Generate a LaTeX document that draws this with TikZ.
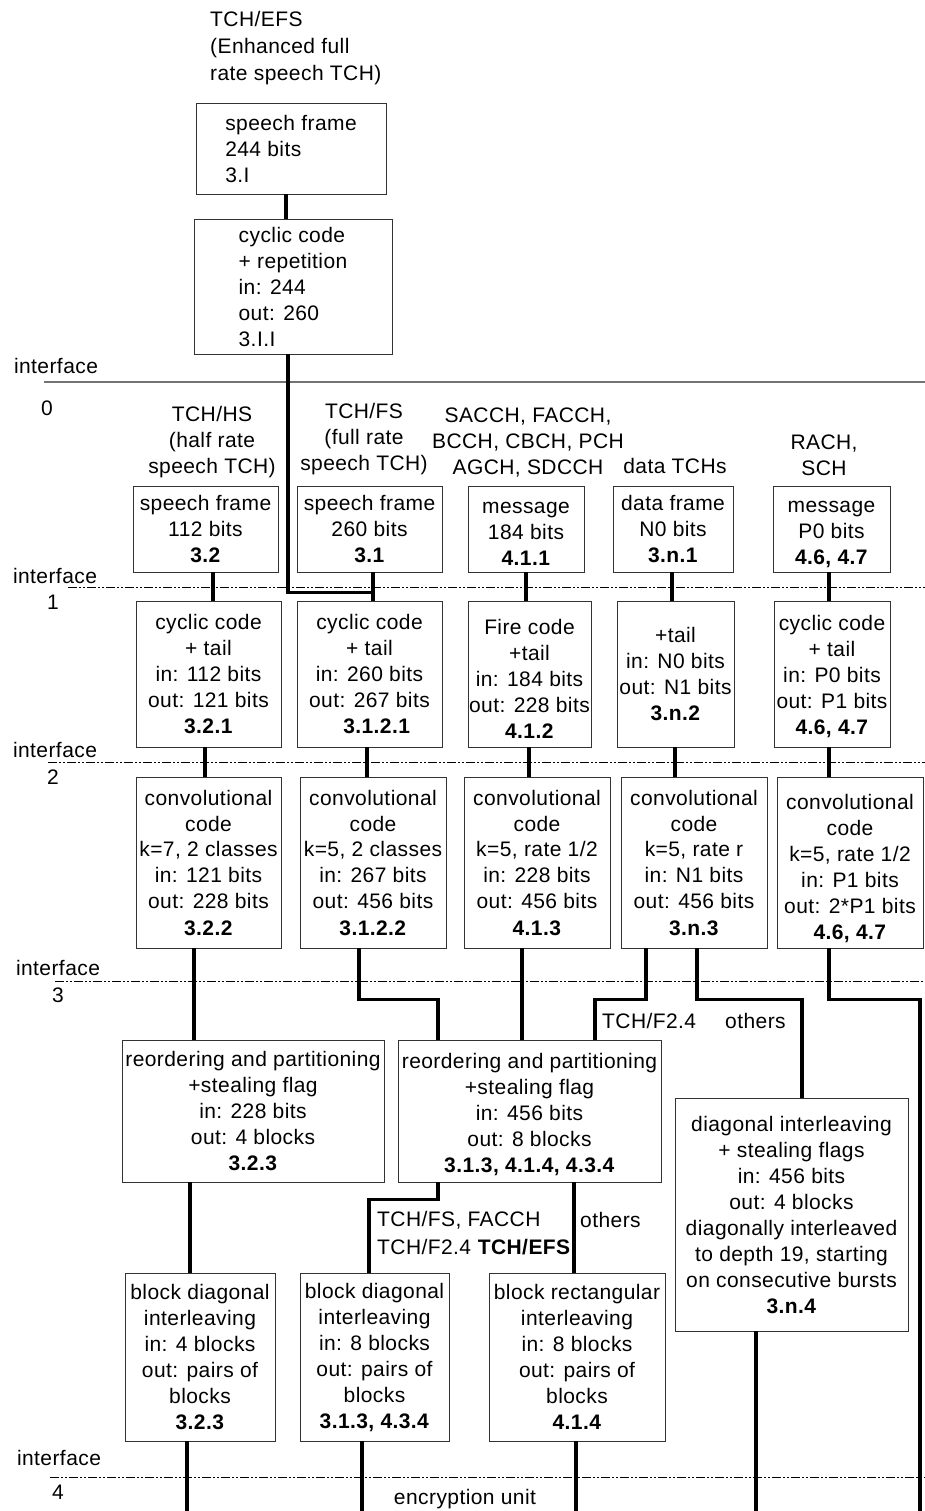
\documentclass[tikz,border=0pt]{standalone}
\usepackage{fontspec}
\setmainfont{Liberation Sans}[LetterSpace=2]
\usetikzlibrary{calc}
\newcommand\dfont{\fontsize{21pt}{26pt}\selectfont}
\newcommand\lift[1]{\rule{0pt}{#1}}
\begin{document}
\begin{tikzpicture}[x=1pt,y=-1pt,
  box/.style={draw=black!80, line width=0.9pt, inner sep=0pt, align=center, font=\dfont},
  conn/.style={line width=3.3pt, black},
  lbl/.style={inner sep=0pt, align=center, font=\dfont},
  iface/.style={line width=0.9pt, dash pattern=on 9pt off 2pt on 2pt off 2pt on 2pt off 2pt}]
\useasboundingbox (0,0) rectangle (925,1511);

% ---------- top (TCH/EFS) ----------
\node[lbl, align=left, anchor=west, font=\fontsize{21pt}{27pt}\selectfont] (efslbl) at (210,48) {TCH/EFS\\(Enhanced full\\rate speech TCH)};
\node[box, align=left, minimum width=190pt, minimum height=91pt] (efsf) at (291,148.5) {speech frame\\244 bits\\3.I};
\node[box, align=left, minimum width=198pt, minimum height=135pt] (efsc) at (293,286.5) {cyclic code\\+ repetition\\in: 244\\out: 260\\3.I.I};

% ---------- interfaces ----------
\node[lbl] (if0) at (56,366) {interface};
\node[lbl] (if0n) at (47,408) {0};
\draw[line width=1.1pt, black!55] (44,382) -- (925,382);
\node[lbl] (if1) at (55,576) {interface};
\node[lbl] (if1n) at (53,602) {1};
\draw[iface] (68,587) -- (925,587);
\node[lbl] (if2) at (55,750) {interface};
\node[lbl] (if2n) at (53,777) {2};
\draw[iface] (48,762) -- (925,762);
\node[lbl] (if3) at (58,968) {interface};
\node[lbl] (if3n) at (58,995) {3};
\draw[iface] (55,981) -- (925,981);
\node[lbl] (if4) at (59,1458) {interface};
\node[lbl] (if4n) at (58,1492) {4};
\draw[iface] (50,1477) -- (925,1477);

% ---------- channel labels ----------
\node[lbl] (hslbl) at (212,442) {TCH/HS\\(half rate\\speech TCH)};
\node[lbl] (fslbl) at (364,439) {TCH/FS\\(full rate\\speech TCH)};
\node[lbl] (sigl) at (528,443) {SACCH, FACCH,\\BCCH, CBCH, PCH\\AGCH, SDCCH};
\node[lbl] (datl) at (675,466) {data TCHs};
\node[lbl] (rachl) at (824,455) {RACH,\\SCH};

% ---------- frames ----------
\node[box, minimum width=145pt, minimum height=86pt] (hsf) at (205.5,529) {speech frame\\112 bits\\\textbf{3.2}};
\node[box, minimum width=145pt, minimum height=86pt] (fsf) at (369.5,529) {speech frame\\260 bits\\\textbf{3.1}};
\node[box, minimum width=116pt, minimum height=86pt] (msgf) at (526,529) {\lift{21pt}message\\184 bits\\\textbf{4.1.1}};
\node[box, minimum width=120pt, minimum height=86pt] (dataf) at (673,529) {data frame\\N0 bits\\\textbf{3.n.1}};
\node[box, minimum width=117pt, minimum height=86pt] (rachf) at (831.5,529) {\lift{23pt}message\\P0 bits\\\textbf{4.6, 4.7}};

% ---------- cyclic codes ----------
\node[box, minimum width=145pt, minimum height=146pt] (hsc) at (208.5,674) {cyclic code\\+ tail\\in: 112 bits\\out: 121 bits\\\textbf{3.2.1}};
\node[box, minimum width=145pt, minimum height=146pt] (fsc) at (369.5,674) {cyclic code\\+ tail\\in: 260 bits\\out: 267 bits\\\hspace*{0.7em}\textbf{3.1.2.1}};
\node[box, minimum width=123pt, minimum height=146pt] (firec) at (529.5,674) {\lift{25pt}Fire code\\+tail\\in: 184 bits\\out: 228 bits\\\textbf{4.1.2}};
\node[box, minimum width=117pt, minimum height=146pt] (datac) at (675.5,674) {+tail\\in: N0 bits\\out: N1 bits\\\textbf{3.n.2}};
\node[box, minimum width=116pt, minimum height=146pt] (rachc) at (832,674) {\lift{21pt}cyclic code\\+ tail\\in: P0 bits\\out: P1 bits\\\textbf{4.6, 4.7}};

% ---------- convolutional codes ----------
\node[box, minimum width=145pt, minimum height=171pt] (hsv) at (208.5,862.5) {convolutional\\code\\k=7, 2 classes\\in: 121 bits\\out: 228 bits\\\textbf{3.2.2}};
\node[box, minimum width=146pt, minimum height=171pt] (fsv) at (373,862.5) {convolutional\\code\\k=5, 2 classes\\in: 267 bits\\out: 456 bits\\\textbf{3.1.2.2}};
\node[box, minimum width=146pt, minimum height=171pt] (msgv) at (537,862.5) {convolutional\\code\\k=5, rate 1/2\\in: 228 bits\\out: 456 bits\\\textbf{4.1.3}};
\node[box, minimum width=146pt, minimum height=171pt] (datav) at (694,862.5) {convolutional\\code\\k=5, rate r\\in: N1 bits\\out: 456 bits\\\textbf{3.n.3}};
\node[box, minimum width=146pt, minimum height=171pt] (rachv) at (850,862.5) {\lift{27pt}convolutional\\code\\k=5, rate 1/2\\in: P1 bits\\out: 2*P1 bits\\\textbf{4.6, 4.7}};

% ---------- reordering / interleaving ----------
\node[box, minimum width=262pt, minimum height=142pt] (hsr) at (253,1111) {reordering and partitioning\\+stealing flag\\in: 228 bits\\out: 4 blocks\\\textbf{3.2.3}};
\node[box, minimum width=263pt, minimum height=142pt] (fsr) at (529.5,1111) {\lift{23pt}reordering and partitioning\\+stealing flag\\in: 456 bits\\out: 8 blocks\\\textbf{3.1.3, 4.1.4, 4.3.4}};
\node[box, minimum width=233pt, minimum height=233pt] (diag) at (791.5,1214.5) {diagonal interleaving\\+ stealing flags\\in: 456 bits\\out: 4 blocks\\diagonally interleaved\\to depth 19, starting\\on consecutive bursts\\\textbf{3.n.4}};
\node[box, minimum width=150pt, minimum height=168pt] (hsb) at (200,1357) {block diagonal\\interleaving\\in: 4 blocks\\out: pairs of\\blocks\\\textbf{3.2.3}};
\node[box, minimum width=149pt, minimum height=168pt] (fsb) at (374.5,1357) {block diagonal\\interleaving\\in: 8 blocks\\out: pairs of\\blocks\\\textbf{3.1.3, 4.3.4}};
\node[box, minimum width=176pt, minimum height=168pt] (rectb) at (577,1357) {block rectangular\\interleaving\\in: 8 blocks\\out: pairs of\\blocks\\\textbf{4.1.4}};

% ---------- branch labels ----------
\node[lbl, anchor=west] (lf24) at (602,1021) {TCH/F2.4};
\node[lbl, anchor=west] (loth1) at (725,1021) {others};
\node[lbl, anchor=west] (lfs) at (377,1220) {TCH/FS, FACCH};
\node[lbl, anchor=west] (lf24b) at (377,1247) {TCH/F2.4 \textbf{TCH/EFS}};
\node[lbl, anchor=west] (loth2) at (580,1220) {others};
\node[lbl] (enc) at (465,1499) {encryption unit};

% ---------- connectors ----------
\coordinate (j1) at ([xshift=3.5pt,yshift=8pt]fsc.north);
\coordinate (e1) at (187,1511);
\coordinate (e2) at (362,1511);
\coordinate (e3) at (576,1511);
\coordinate (e4) at (756,1511);
\coordinate (e5) at (920,1511);

\draw[conn] ([xshift=-5pt]efsf.south) -- ([xshift=-7pt]efsc.north);
\draw[conn] ([xshift=-5pt]efsc.south) |- (j1);

\draw[conn] ([xshift=7.5pt]hsf.south) -- ([xshift=4.5pt]hsc.north);
\draw[conn] ([xshift=3.5pt]fsf.south) -- ([xshift=3.5pt]fsc.north);
\draw[conn] (msgf.south) -- ([xshift=-3.5pt]firec.north);
\draw[conn] ([xshift=-1pt]dataf.south) -- ([xshift=-3.5pt]datac.north);
\draw[conn] ([xshift=-2.5pt]rachf.south) -- ([xshift=-3pt]rachc.north);

\draw[conn] ([xshift=-3.5pt]hsc.south) -- ([xshift=-3.5pt]hsv.north);
\draw[conn] ([xshift=-2.5pt]fsc.south) -- ([xshift=-6pt]fsv.north);
\draw[conn] ([xshift=-0.5pt]firec.south) -- ([xshift=-8pt]msgv.north);
\draw[conn] ([xshift=-0.5pt]datac.south) -- ([xshift=-19pt]datav.north);
\draw[conn] ([xshift=-3pt]rachc.south) -- ([xshift=-21pt]rachv.north);

\draw[conn] ([xshift=-14.5pt]hsv.south) -- ([xshift=-59pt]hsr.north);
\draw[conn] ([xshift=-14pt]fsv.south) -- ++(0,51) -| ([xshift=-91.5pt]fsr.north);
\draw[conn] ([xshift=-15pt]msgv.south) -- ([xshift=-7.5pt]fsr.north);
\draw[conn] ([xshift=-48pt]datav.south) -- ++(0,51) -| ([xshift=65.5pt]fsr.north);
\draw[conn] ([xshift=3pt]datav.south) -- ++(0,51) -| ([xshift=10.5pt]diag.north);
\draw[conn] ([xshift=-21pt]rachv.south) -- ++(0,51) -| (e5);

\draw[conn] ([xshift=-63pt]hsr.south) -- ([xshift=-10pt]hsb.north);
\draw[conn] ([xshift=-91.5pt]fsr.south) -- ++(0,17) -| ([xshift=-5.5pt]fsb.north);
\draw[conn] ([xshift=44.5pt]fsr.south) -- ([xshift=-3pt]rectb.north);

\draw[conn] ([xshift=-13pt]hsb.south) -- (e1);
\draw[conn] ([xshift=-12.5pt]fsb.south) -- (e2);
\draw[conn] ([xshift=-1pt]rectb.south) -- (e3);
\draw[conn] ([xshift=-35.5pt]diag.south) -- (e4);
\end{tikzpicture}
\end{document}
